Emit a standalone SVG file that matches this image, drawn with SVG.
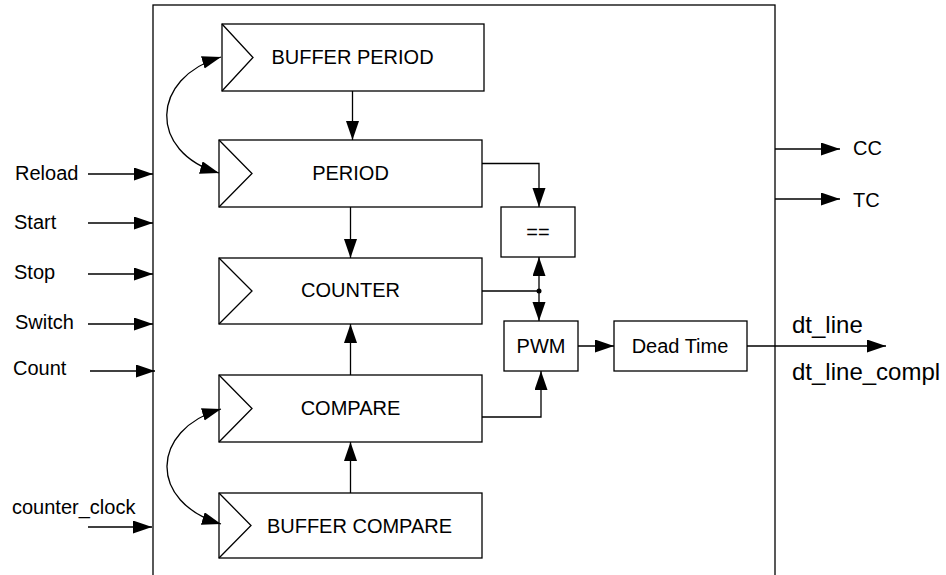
<svg xmlns="http://www.w3.org/2000/svg" width="946" height="575" viewBox="0 0 946 575">
<defs>
<marker id="ah" markerUnits="userSpaceOnUse" markerWidth="20" markerHeight="14" refX="19" refY="6.5" orient="auto-start-reverse">
<path d="M0,0 L19,6.5 L0,13 z" fill="#000"/>
</marker>
<style>
.b{fill:#fff;stroke:#000;stroke-width:1.3}
.c{fill:none;stroke:#000;stroke-width:1.3}
.w{fill:none;stroke:#000;stroke-width:1.3;marker-end:url(#ah)}
.d{fill:none;stroke:#000;stroke-width:1.3;marker-start:url(#ah);marker-end:url(#ah)}
text{font-family:"Liberation Sans",Arial,sans-serif;font-size:20px;fill:#000}
.m{text-anchor:middle}
.l{font-size:24px}
</style>
</defs>
<rect width="946" height="575" fill="#fff"/>
<g id="main"><rect class="b" x="153" y="5" width="622" height="600"/></g>
<g id="buffer_period"><rect class="b" x="222" y="24" width="262" height="67"/><path class="c" d="M222,24 L253,57.5 L222,91"/><text class="m" x="352.5" y="64">BUFFER PERIOD</text></g>
<g id="period"><rect class="b" x="219" y="140" width="263" height="67"/><path class="c" d="M219,140 L252,173.5 L219,207"/><text class="m" x="350.5" y="180">PERIOD</text></g>
<g id="counter"><rect class="b" x="219" y="258" width="263" height="66"/><path class="c" d="M219,258 L252,291 L219,324"/><text class="m" x="350.5" y="297">COUNTER</text></g>
<g id="compare"><rect class="b" x="219" y="375" width="263" height="67"/><path class="c" d="M219,375 L252,408.5 L219,442"/><text class="m" x="350.5" y="415">COMPARE</text></g>
<g id="buffer_compare"><rect class="b" x="219" y="493" width="263" height="65"/><path class="c" d="M219,493 L251,525.5 L219,558"/><text class="m" x="359.5" y="533">BUFFER COMPARE</text></g>
<g id="eq"><rect class="b" x="501" y="207" width="74" height="50"/><text class="m" x="538" y="239">==</text></g>
<g id="pwm"><rect class="b" x="504" y="321" width="74" height="50"/><text class="m" x="541" y="353">PWM</text></g>
<g id="dead_time"><rect class="b" x="614" y="321" width="133" height="50"/><text class="m" x="680" y="353">Dead Time</text></g>
<g id="inputs">
<text x="15" y="180">Reload</text>
<text x="14" y="229">Start</text>
<text x="14" y="279">Stop</text>
<text x="15" y="329">Switch</text>
<text x="13" y="375">Count</text>
<text x="12" y="514">counter_clock</text>
</g>
<g id="outputs">
<text x="853" y="155">CC</text>
<text x="853" y="207">TC</text>
<text class="l" x="792" y="333">dt_line</text>
<text class="l" x="792" y="380">dt_line_compl</text>
</g>
<g id="connectors">
<path class="w" d="M88,174 H153"/>
<path class="w" d="M88,223 H153"/>
<path class="w" d="M88,274 H153"/>
<path class="w" d="M88,324 H153"/>
<path class="w" d="M90,371 H155"/>
<path class="w" d="M88,527 H152"/>
<path class="w" d="M775,149 H840"/>
<path class="w" d="M775,199 H840"/>
<path class="w" d="M747,346 H886"/>
<path class="w" d="M352.5,91 V140"/>
<path class="w" d="M350.5,207 V258"/>
<path class="w" d="M350.5,375 V324"/>
<path class="w" d="M350.5,493 V442"/>
<path class="d" d="M221,57 C150,78 148,152 219,173"/>
<path class="d" d="M221,409 C150,430 148,502 221,524"/>
<path class="w" d="M482,163.5 H539 V207"/>
<path class="c" d="M482,291 H539"/>
<path class="w" d="M539,291 V257"/>
<path class="w" d="M539,291 V321"/>
<circle cx="539" cy="291" r="2.5" fill="#000"/>
<path class="w" d="M482,417 H541 V371"/>
<path class="w" d="M578,346 H614"/>
</g>
</svg>
